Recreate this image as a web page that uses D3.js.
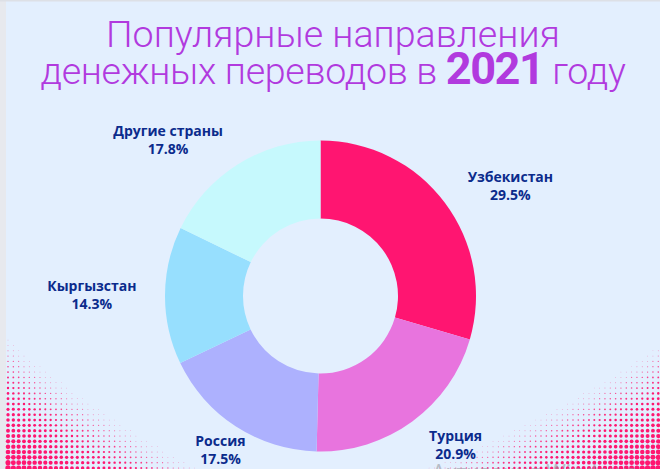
<!DOCTYPE html>
<html lang="ru">
<head>
<meta charset="utf-8">
<script src="https://cdn.jsdelivr.net/npm/d3@7"></script>
<style>
  html, body { margin: 0; padding: 0; background: #e3effe; }
  svg { display: block; }
</style>
</head>
<body>
<svg id="chart" width="660" height="469"></svg>
<script>
// Chart data
const countries = ["Узбекистан", "Турция", "Россия", "Кыргызстан", "Другие страны"];
const shares = [29.5, 20.9, 17.5, 14.3, 17.8];
const sliceColors = ["#ff1571", "#e874de", "#adb1fe", "#97dffe", "#c6f9fd"];

const titleLine1 = "Популярные направления";
const titleLine2 = ["денежных переводов в ", "2021", " году"];

const svg = d3.select("#chart");
const W = +svg.attr("width");
const H = +svg.attr("height");

// Background
svg.append("rect").attr("width", W).attr("height", H).attr("fill", "#e3effe");
svg.append("rect").attr("width", 6).attr("height", H).attr("fill", "#e7e9ee");
svg.append("rect").attr("width", W).attr("height", 1.5).attr("fill", "#dde0e6");

// Halftone dots in the bottom corners
const dots = svg.append("g").attr("class", "dots");
function halftone(cornerX, cornerY, ax, ay, maxR) {
  const step = 5.33;
  const p = 0.9;
  for (let x = 8; x < W; x += step) {
    for (let y = H - 1; y > H - 200; y -= step) {
      const u = Math.abs(x - cornerX) / ax;
      const v = Math.abs(y - cornerY) / ay;
      const t = Math.pow(Math.pow(u, p) + Math.pow(v, p), 1 / p);
      const r = maxR * (1 - t);
      if (r > 0.3) {
        dots
          .append("circle")
          .attr("cx", x)
          .attr("cy", y)
          .attr("r", r)
          .attr("fill", "#ff1670")
          .attr("opacity", Math.min(1, 0.4 + r / 2));
      }
    }
  }
}
halftone(6, H, 220, 150, 2.7);
halftone(W, H, 265, 140, 2.8);

// Title
const title = svg
  .append("g")
  .attr("fill", "#b13ade")
  .attr("font-family", "Roboto, 'Noto Sans', sans-serif");

const t1 = title
  .append("text")
  .attr("x", 333)
  .attr("y", 46.5)
  .attr("text-anchor", "middle")
  .attr("font-weight", 300)
  .attr("font-size", 36)
  .text(titleLine1);
// fit the first line to its width in the picture
const fit = 36 * 454 / t1.node().getComputedTextLength();
t1.attr("font-size", fit);

const t2 = title
  .append("text")
  .attr("x", 333)
  .attr("y", 84)
  .attr("text-anchor", "middle")
  .attr("font-weight", 300)
  .attr("font-size", fit)
  .attr("letter-spacing", -0.3);
t2.selectAll("tspan")
  .data(titleLine2)
  .join("tspan")
  .attr("font-weight", (d, i) => (i === 1 ? 700 : 300))
  .attr("font-size", (d, i) => (i === 1 ? fit * 1.2 : fit))
  .attr("letter-spacing", (d, i) => (i === 1 ? -1.5 : -0.3))
  .text((d) => d);

// Donut
const cx = 320.5;
const cy = 296;
const outerR = 155.5;
const innerR = 77.5;

const pie = d3.pie().sort(null).value((d) => d.share);
const arc = d3.arc().innerRadius(innerR).outerRadius(outerR);

const data = countries.map((c, i) => ({ country: c, share: shares[i], color: sliceColors[i] }));
const arcs = pie(data);

const donut = svg.append("g").attr("transform", `translate(${cx},${cy})`);
donut
  .selectAll("path")
  .data(arcs)
  .join("path")
  .attr("d", arc)
  .attr("fill", (d) => d.data.color);

// Labels around the donut
const labelR = 184;
const labels = donut
  .selectAll(".label")
  .data(arcs)
  .join("text")
  .attr("class", "label")
  .attr("font-family", "'Open Sans', 'Noto Sans', sans-serif")
  .attr("font-weight", 700)
  .attr("font-size", 14)
  .attr("fill", "#0b2b8c")
  .attr("text-anchor", "middle");

labels.each(function (d) {
  const a = (d.startAngle + d.endAngle) / 2;
  const px = labelR * Math.sin(a);
  const py = -labelR * Math.cos(a);
  const g = d3.select(this);
  g.append("tspan").attr("x", 0).attr("dy", -4).text(d.data.country);
  g.append("tspan").attr("x", 0).attr("dy", 18).text(d.data.share.toFixed(1) + "%");
  // block width to push the label outwards from the ring
  const w = this.getBBox().width;
  let x = px;
  if (Math.cos(a) > -0.82) x = px + Math.sign(px) * w / 2; // labels near the bottom stay centred
  g.selectAll("tspan").attr("x", x);
  g.attr("y", py);
});

// Windows watermark peeking at the bottom
svg
  .append("text")
  .attr("x", 432)
  .attr("y", 480)
  .attr("font-family", "'Noto Sans', sans-serif")
  .attr("font-size", 21)
  .attr("fill", "#9a9ca3")
  .attr("opacity", 0.6)
  .text("Активация Windows");
</script>
</body>
</html>
